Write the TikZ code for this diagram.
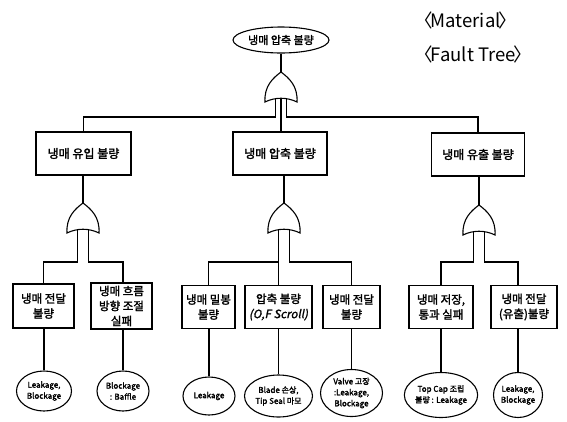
\documentclass[tikz,border=0pt]{standalone}
\usepackage{fontspec}
\setmainfont{Noto Sans CJK KR}
\newfontfamily\krfont{Noto Sans CJK KR}[FakeBold=2]
\newfontfamily\krslant{Noto Sans CJK KR}[FakeBold=1.5,FakeSlant=0.2]
\newfontfamily\headfont{Noto Sans CJK KR}
\usetikzlibrary{shapes.geometric}

\tikzset{
  wire/.style={line width=1.1pt},
  topevent/.style={draw, ellipse, line width=1.1pt, inner sep=0pt,
    minimum width=96pt, minimum height=26pt, font=\fontsize{11}{13}\krfont},
  eventbox/.style={draw, rectangle, line width=1.1pt, inner sep=1pt, align=center,
    font=\fontsize{11.5}{15}\krfont},
  upperbox/.style={eventbox, minimum height=43pt, font=\fontsize{12}{15}\krfont},
  basicev/.style={draw, ellipse, line width=1.1pt, inner sep=0pt, align=center,
    font=\fontsize{8}{11}\krfont},
  heading/.style={anchor=west, inner sep=0pt, font=\fontsize{18.5}{21}\headfont},
  % OR gate: apex at the origin, base 30 below, inputs leave from the base
  orgate/.pic={
    \draw[wire] (-16,30) .. controls (-17,14) and (-8,6) .. (0,0)
      .. controls (8,6) and (17,14) .. (16,30)
      .. controls (6,25) and (-6,25) .. cycle;
    \coordinate (-top) at (0,0);
    \coordinate (-l) at (-5.5,27);
    \coordinate (-m) at (0,26.3);
    \coordinate (-r) at (5.5,27);
  }
}

\begin{document}
\begin{tikzpicture}[x=1pt, y=-1pt]
  \useasboundingbox[fill=white] (0,0) rectangle (567,421);

  % headings
  \node[heading] (mat) at (414,20) {〈\kern-2pt Material\kern-2pt〉};
  \node[heading] (ft) at (414,54) {〈\kern-2pt Fault Tree\kern-2pt〉};

  % top event and its gate
  \node[topevent] (E0) at (281,40) {냉매 압축 불량};
  \pic (G0) at (281,72) {orgate};

  % second level
  \node[upperbox, minimum width=95pt] (B1) at (83.5,153.5) {냉매 유입 불량};
  \node[upperbox, minimum width=94pt] (B2) at (280,153.5) {냉매 압축 불량};
  \node[upperbox, minimum width=93pt] (B3) at (478,154.5) {냉매 유출 불량};

  \pic (GL) at (83,203) {orgate};
  \pic (GM) at (284,203) {orgate};
  \pic (GR) at (479,205) {orgate};

  % third level
  \node[eventbox, minimum width=61pt, minimum height=44pt] (C1) at (43.5,306) {냉매 전달\\불량};
  \node[eventbox, minimum width=61pt, minimum height=46pt] (C2) at (121.5,306) {냉매 흐름\\방향 조절\\실패};
  \node[eventbox, minimum width=53pt, minimum height=43pt] (C3) at (208.5,307) {냉매 밀봉\\불량};
  \node[eventbox, minimum width=67pt, minimum height=43pt] (C4) at (278.5,307) {압축 불량\\{\krslant(O,F Scroll)}};
  \node[eventbox, minimum width=57pt, minimum height=43pt] (C5) at (351.5,307) {냉매 전달\\불량};
  \node[eventbox, minimum width=64pt, minimum height=43pt] (C6) at (441,307) {냉매 저장,\\통과 실패};
  \node[eventbox, minimum width=66pt, minimum height=43pt] (C7) at (524,307) {냉매 전달\\(유출)불량};

  % basic events
  \node[basicev, minimum width=55pt, minimum height=40pt] (D1) at (44,391) {Leakage,\\Blockage};
  \node[basicev, minimum width=52pt, minimum height=40pt] (D2) at (123,391) {Blockage\\: Baffle};
  \node[basicev, minimum width=52pt, minimum height=38pt] (D3) at (209,396) {Leakage};
  \node[basicev, minimum width=68pt, minimum height=42pt] (D4) at (278.5,396) {Blade 손상,\\Tip Seal 마모};
  \node[basicev, minimum width=62pt, minimum height=47pt] (D5) at (351.5,393) {Valve 고장\\:Leakage,\\Blockage};
  \node[basicev, minimum width=56pt, minimum height=45pt] (D6) at (441,395) {Top Cap 조립\\불량 : Leakage};
  \node[basicev, minimum width=49pt, minimum height=45pt] (D7) at (518,395) {Leakage,\\Blockage};

  % bus levels
  \coordinate (bus0) at (0,117);
  \coordinate (bus1) at (0,262);

  % connectors
  \draw[wire] (E0.south) -- (G0-top);
  \draw[wire] (G0-l) -- (G0-l |- bus0) -| (B1.north);
  \draw[wire] (G0-m) -- (B2.north -| G0-m);
  \draw[wire] (G0-r) -- (G0-r |- bus0) -| (B3.north);

  \draw[wire] (GL-top |- B1.south) -- (GL-top);
  \draw[wire] (GM-top |- B2.south) -- (GM-top);
  \draw[wire] (GR-top |- B3.south) -- (GR-top);

  \draw[wire] (GL-l) -- (GL-l |- bus1) -| (C1.north);
  \draw[wire] (GL-r) -- (GL-r |- bus1) -| (C2.north -| D2.north);
  \draw[wire] (GM-l) -- (GM-l |- bus1) -| (C3.north);
  \draw[wire] (GM-l) -- (C4.north -| GM-l);
  \draw[wire] (GM-r) -- (GM-r |- bus1) -| (C5.north);
  \draw[wire] (GR-l) -- (GR-l |- bus1) -| (C6.north);
  \draw[wire] (GR-r) -- (GR-r |- bus1) -| (C7.north -| D7.north);

  \foreach \c/\d in {C1/D1, C2/D2, C3/D3, C4/D4, C5/D5, C6/D6, C7/D7}
    \draw[wire] (\c.south -| \d.north) -- (\d.north);
\end{tikzpicture}
\end{document}
